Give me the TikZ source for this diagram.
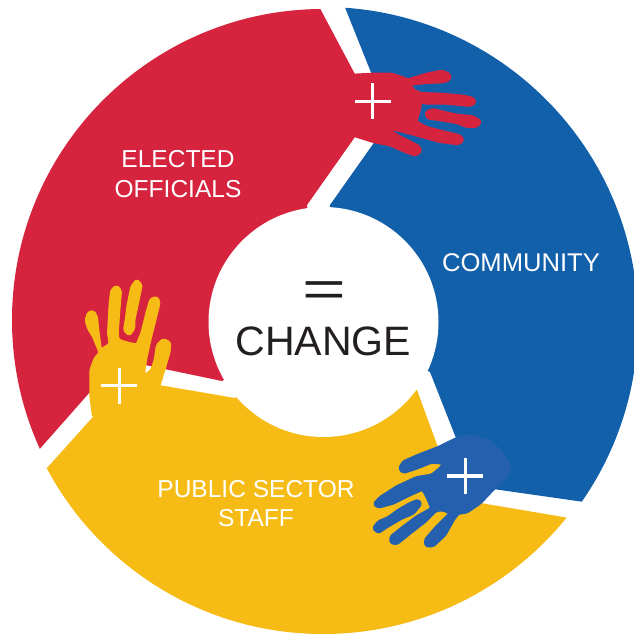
\documentclass[tikz,border=0pt]{standalone}
\usepackage{fontspec}
\setmainfont{Liberation Sans}
\definecolor{cred}{HTML}{D6243F}
\definecolor{cblue}{HTML}{1360AA}
\definecolor{chand}{HTML}{2460AD}
\definecolor{cyellow}{HTML}{F6BC15}
\definecolor{cink}{HTML}{231F20}
\tikzset{
  plussign/.style={draw=white,line width=2.4pt},
  handshape/.style={rounded corners=1.2pt,line width=2pt,line join=round},
  lab/.style={text=white,font=\fontsize{18.4}{22}\selectfont,inner sep=0pt,align=center},
  zoomed/.style={x=0.25pt,y=-0.25pt}
}
\begin{document}
\begin{tikzpicture}[x=0.75pt,y=-0.75pt]
\fill[white] (0,0) rectangle (634,634);
\clip (0,0) rectangle (634,634);
% red sector
\begin{scope}
\clip (323,320) circle (311);
\fill[cred] (306,-18) -- (374,110) -- (307,205) -- (323,320) -- (222,381) -- (118.7,359.5) -- (0,494) -- (-60,300) -- (100,-60) -- cycle;
\end{scope}
% blue sector
\begin{scope}
\clip (323,322) circle (315);
\fill[cblue] (334,-20) -- (390,120) -- (330,205) -- (323,322) -- (430,372) -- (475,486.4) -- (640,510) -- (720,300) -- (500,-60) -- cycle;
\end{scope}
% yellow sector
\begin{scope}
\clip (323,321) circle (313);
\fill[cyellow] (20,498) -- (126.6,379.5) -- (235,398) -- (323,322) -- (417,390) -- (457,499) -- (640,530) -- (600,700) -- (100,700) -- cycle;
\end{scope}
% centre
\fill[white] (323.5,322) circle (115);
\node[inner sep=0pt,text=cink,font=\fontsize{38}{40}\selectfont,xscale=1.48] (eq) at (324.5,294.5) {=};
\node[inner sep=0pt,text=cink,font=\fontsize{30.8}{34}\selectfont] (chg) at (323.5,341) {CHANGE};
\node[lab] (elected) at (178,174) {ELECTED\\[0.2pt]OFFICIALS};
\node[lab,font=\fontsize{19.2}{22}\selectfont] (comm) at (521,262.5) {COMMUNITY};
\node[lab] (staff) at (256,503.5) {PUBLIC SECTOR\\[0.2pt]STAFF};
% red hand
\begin{scope}[shift={(330,50)},zoomed]
\filldraw[fill=cred,draw=cred,handshape] (70,75) -- (130,72) -- (185,72) -- (225,85) -- (232,90) -- (290,72) -- (335,63) -- (358,72) -- (360,88) -- (340,96) -- (290,98) -- (240,103) -- (250,120) -- (272,130) -- (330,132) -- (400,138) -- (430,145) -- (436,158) -- (420,167) -- (350,160) -- (285,160) -- (272,155) -- (270,175) -- (258,215) -- (290,232) -- (340,245) -- (390,257) -- (400,270) -- (385,282) -- (330,275) -- (275,260) -- (220,245) -- (190,238) -- (165,232) -- (200,255) -- (240,275) -- (268,290) -- (272,305) -- (255,316) -- (225,305) -- (180,285) -- (130,275) -- (75,258) -- (60,160) -- cycle;
\filldraw[fill=cred,draw=cred,handshape] (290,185) -- (310,178) -- (335,185) -- (380,195) -- (430,200) -- (452,215) -- (440,230) -- (410,230) -- (380,218) -- (345,212) -- (320,208) -- (295,205) -- (288,195) -- cycle;
\draw[plussign] (75,154) -- (182,154) (128,100) -- (128,207);
\end{scope}
% yellow hand
\begin{scope}[shift={(60,270)},zoomed]
\filldraw[fill=cyellow,draw=cyellow,handshape] (100,440) -- (92,380) -- (92,300) -- (105,265) -- (120,248) -- (100,200) -- (85,175) -- (78,150) -- (85,128) -- (100,124) -- (110,140) -- (115,190) -- (122,240) -- (150,222) -- (145,190) -- (150,100) -- (155,60) -- (170,48) -- (182,62) -- (178,110) -- (172,190) -- (175,210) -- (200,218) -- (230,225) -- (245,190) -- (260,130) -- (272,88) -- (290,82) -- (298,97) -- (285,150) -- (270,210) -- (258,265) -- (250,320) -- (275,300) -- (285,270) -- (292,225) -- (310,208) -- (330,218) -- (328,245) -- (315,290) -- (298,345) -- (260,420) -- cycle;
\filldraw[fill=cyellow,draw=cyellow,handshape] (215,50) -- (230,30) -- (244,45) -- (235,90) -- (222,150) -- (222,175) -- (208,195) -- (193,180) -- (198,150) -- (203,110) -- cycle;
\draw[plussign] (124,347) -- (232,347) (178,294) -- (178,402);
\end{scope}
% blue hand
\begin{scope}[shift={(360,420)},zoomed]
\filldraw[fill=chand,draw=chand,handshape] (235,82) -- (290,55) -- (335,47) -- (380,60) -- (420,90) -- (450,140) -- (435,175) -- (400,208) -- (360,250) -- (320,277) -- (295,280) -- (280,300) -- (255,345) -- (220,378) -- (198,378) -- (195,360) -- (225,325) -- (270,280) -- (250,270) -- (228,272) -- (195,305) -- (150,340) -- (110,372) -- (92,368) -- (92,350) -- (130,320) -- (170,290) -- (215,265) -- (200,230) -- (188,208) -- (150,225) -- (100,250) -- (55,262) -- (42,252) -- (60,232) -- (110,200) -- (170,172) -- (215,165) -- (240,145) -- (250,130) -- (215,127) -- (170,145) -- (130,158) -- (118,145) -- (130,125) -- (175,105) -- cycle;
\filldraw[fill=chand,draw=chand,handshape] (40,325) -- (55,305) -- (85,292) -- (115,270) -- (150,250) -- (175,240) -- (183,252) -- (160,280) -- (125,295) -- (90,315) -- (55,338) -- cycle;
\draw[plussign] (262,168) -- (370,168) (316,115) -- (316,222);
\end{scope}
\end{tikzpicture}
\end{document}
